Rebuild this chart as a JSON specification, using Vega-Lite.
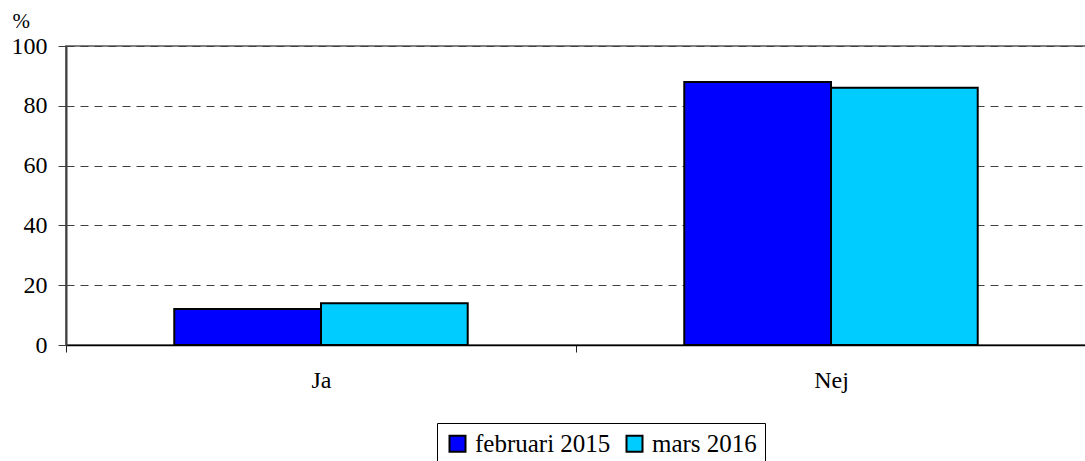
{
  "$schema": "https://vega.github.io/schema/vega-lite/v6.json",
  "autosize": {"type": "none"},
  "padding": {"left": 66, "top": 46, "right": 0, "bottom": 116},
  "width": 1020,
  "height": 299,
  "background": "white",
  "data": {
    "values": [
      {"svar": "Ja", "period": "februari 2015", "procent": 12},
      {"svar": "Ja", "period": "mars 2016", "procent": 14},
      {"svar": "Nej", "period": "februari 2015", "procent": 88},
      {"svar": "Nej", "period": "mars 2016", "procent": 86}
    ]
  },
  "config": {
    "font": "'Liberation Serif', 'Times New Roman', 'DejaVu Serif', serif",
    "view": {"stroke": "#808080", "strokeWidth": 2},
    "axis": {"labelFont": "'Liberation Serif', 'Times New Roman', serif", "titleFont": "'Liberation Serif', 'Times New Roman', serif"},
    "legend": {"labelFont": "'Liberation Serif', 'Times New Roman', serif"}
  },
  "mark": {"type": "bar", "stroke": "black", "strokeWidth": 2},
  "encoding": {
    "x": {
      "field": "svar",
      "type": "nominal",
      "scale": {"paddingInner": 0, "paddingOuter": 0},
      "axis": {
        "title": null,
        "labelAngle": 0,
        "labelFontSize": 24,
        "labelColor": "black",
        "labelPadding": 16,
        "tickBand": "extent",
        "tickSize": 7,
        "tickColor": "#202020",
        "domainColor": "black",
        "domainWidth": 1.5,
        "grid": false
      }
    },
    "xOffset": {
      "field": "period",
      "type": "nominal",
      "scale": {"paddingInner": 0, "paddingOuter": 0.738}
    },
    "y": {
      "field": "procent",
      "type": "quantitative",
      "scale": {"domain": [0, 100]},
      "axis": {
        "values": [0, 20, 40, 60, 80, 100],
        "title": "%",
        "titleAngle": 0,
        "titleAlign": "left",
        "titleBaseline": "top",
        "titleX": -54,
        "titleY": -36,
        "titleFontSize": 21,
        "titleFontWeight": "normal",
        "titleColor": "black",
        "labelFontSize": 24,
        "labelColor": "black",
        "labelPadding": 11,
        "tickSize": 8,
        "tickColor": "#404040",
        "domainColor": "#404040",
        "domainWidth": 2,
        "grid": true,
        "gridColor": "#404040",
        "gridDash": [8, 6],
        "gridWidth": 1
      }
    },
    "color": {
      "field": "period",
      "type": "nominal",
      "scale": {"domain": ["februari 2015", "mars 2016"], "range": ["#0000FF", "#00CCFF"]},
      "legend": {
        "title": null,
        "orient": "none",
        "direction": "horizontal",
        "legendX": 371,
        "legendY": 377,
        "strokeColor": "black",
        "padding": 8,
        "symbolType": "square",
        "symbolSize": 256,
        "symbolStrokeColor": "black",
        "symbolStrokeWidth": 2,
        "symbolOpacity": 1,
        "labelFontSize": 25,
        "labelColor": "black",
        "columnPadding": 11,
        "labelOffset": 5,
        "labelLimit": 300
      }
    }
  }
}
